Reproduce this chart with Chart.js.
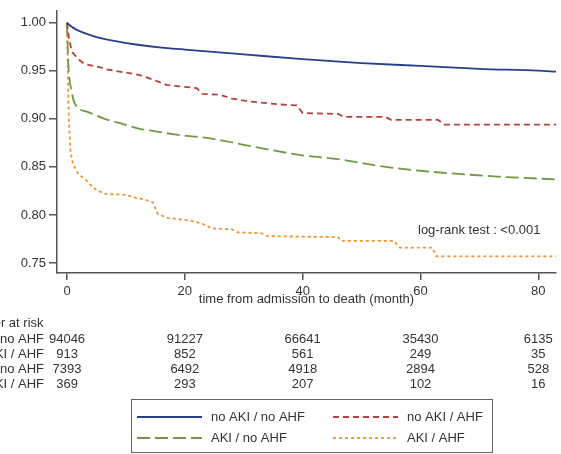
<!DOCTYPE html>
<html lang="en">
<head>
  <meta charset="UTF-8">
  <title>Survival by AKI / AHF group</title>
  <script src="https://cdn.jsdelivr.net/npm/chart.js"></script>
  <style>
    * {
      box-sizing: border-box;
      margin: 0;
      padding: 0;
    }

    body {
      background: #fff;
      font-family: 'Liberation Sans', Arial, sans-serif;
    }

    .chart-wrap {
      width: 561px;
      height: 454px;
    }
  </style>
</head>
<body>
  <div class="chart-wrap">
    <canvas id="kmChart" width="561" height="454"></canvas>
  </div>

  <script>
    // group names (legend + risk table rows)
    const groupLabels = ['no AKI / no AHF', 'no AKI / AHF', 'AKI / no AHF', 'AKI / AHF'];

    // survival curves: months and survival probability
    const noAkiNoAhfT = [0, 0.5, 1.5, 3, 5, 8, 12, 16, 20, 30, 40, 50, 60, 70, 80, 83];
    const noAkiNoAhfS = [1.0, 0.997, 0.993, 0.989, 0.985, 0.981, 0.977, 0.974, 0.972, 0.967, 0.962, 0.958, 0.955, 0.952, 0.950, 0.949];

    const noAkiAhfT = [0, 0.3, 0.8, 1.9, 3, 6, 7, 10, 12, 14.5, 17, 22, 23, 26, 28, 31, 36, 39, 40, 46, 47, 54, 55, 63, 64, 83];
    const noAkiAhfS = [1.0, 0.985, 0.97, 0.962, 0.957, 0.953, 0.951, 0.948, 0.946, 0.941, 0.935, 0.932, 0.926, 0.925, 0.921, 0.918, 0.915, 0.914, 0.906, 0.905, 0.902, 0.902, 0.899, 0.899, 0.894, 0.894];

    const akiNoAhfT = [0, 0.2, 0.8, 1.4, 3.6, 6.4, 9.3, 12, 15, 18, 25, 30, 40, 46, 53, 60, 73, 83];
    const akiNoAhfS = [1.0, 0.96, 0.928, 0.915, 0.907, 0.900, 0.895, 0.890, 0.887, 0.884, 0.879, 0.873, 0.862, 0.858, 0.851, 0.846, 0.840, 0.837];

    const akiAhfT = [0, 0.3, 0.6, 1.0, 1.9, 3.1, 4.2, 5, 6.4, 10, 11.5, 13.2, 14.6, 15.4, 17.1, 21, 22.9, 24.6, 28, 29, 33, 34, 46, 46.5, 55.5, 56.5, 62, 62.7, 83];
    const akiAhfS = [1.0, 0.9, 0.866, 0.853, 0.843, 0.837, 0.830, 0.826, 0.822, 0.821, 0.818, 0.816, 0.813, 0.801, 0.797, 0.794, 0.791, 0.786, 0.785, 0.782, 0.781, 0.778, 0.777, 0.773, 0.773, 0.766, 0.766, 0.757, 0.757];

    // axes
    const xTicks = [0, 20, 40, 60, 80];
    const yTicks = [0.75, 0.80, 0.85, 0.90, 0.95, 1.00];
    const xTitle = 'time from admission to death (month)';
    const logRankText = 'log-rank test : <0.001';

    // number at risk table
    const riskTimes = [0, 20, 40, 60, 80];
    const riskNoAkiNoAhf = [94046, 91227, 66641, 35430, 6135];
    const riskNoAkiAhf = [913, 852, 561, 249, 35];
    const riskAkiNoAhf = [7393, 6492, 4918, 2894, 528];
    const riskAkiAhf = [369, 293, 207, 102, 16];

    const FONT = '13px "Liberation Sans", Arial, sans-serif';
    const TEXT = '#333';
    const AXIS = '#555';

    function toPoints(t, s) {
      return t.map((v, i) => ({ x: v, y: s[i] }));
    }

    // risk table, axis title, annotation and boxed legend
    const kmExtras = {
      id: 'kmExtras',
      afterDraw(chart) {
        const ctx = chart.ctx;
        const xs = chart.scales.x;
        const area = chart.chartArea;
        ctx.save();
        ctx.font = FONT;
        ctx.fillStyle = TEXT;
        ctx.textBaseline = 'middle';

        ctx.textAlign = 'center';
        ctx.fillText(xTitle, (area.left + area.right) / 2, 299);

        ctx.textAlign = 'left';
        ctx.fillText(logRankText, 418, 230);

        ctx.fillText('Number at risk', -41, 323);
        const rows = [riskNoAkiNoAhf, riskNoAkiAhf, riskAkiNoAhf, riskAkiAhf];
        rows.forEach((row, i) => {
          const y = 339 + i * 15;
          ctx.textAlign = 'right';
          ctx.fillText(groupLabels[i], 44, y);
          ctx.textAlign = 'center';
          row.forEach((n, j) => ctx.fillText(String(n), xs.getPixelForValue(riskTimes[j]), y));
        });

        // legend box
        ctx.strokeStyle = '#666';
        ctx.lineWidth = 1;
        ctx.strokeRect(131.5, 399.5, 361, 53);
        const colX = [137, 333];
        const rowY = [417, 438];
        chart.data.datasets.forEach((ds, i) => {
          const lx = colX[i % 2];
          const ly = rowY[Math.floor(i / 2)];
          ctx.beginPath();
          ctx.strokeStyle = ds.borderColor;
          ctx.lineWidth = ds.borderWidth;
          ctx.setLineDash(ds.borderDash || []);
          ctx.moveTo(lx, ly);
          ctx.lineTo(lx + 65, ly);
          ctx.stroke();
          ctx.setLineDash([]);
          ctx.textAlign = 'left';
          ctx.fillStyle = TEXT;
          ctx.fillText(ds.label, lx + 74, ly);
        });
        ctx.restore();
      }
    };

    const ctx = document.getElementById('kmChart').getContext('2d');
    new Chart(ctx, {
      type: 'line',
      data: {
        datasets: [
          {
            label: groupLabels[0],
            data: toPoints(noAkiNoAhfT, noAkiNoAhfS),
            borderColor: '#27408b',
            borderWidth: 1.8,
            cubicInterpolationMode: 'monotone'
          },
          {
            label: groupLabels[1],
            data: toPoints(noAkiAhfT, noAkiAhfS),
            borderColor: '#b5423a',
            borderWidth: 1.8,
            borderDash: [6, 4]
          },
          {
            label: groupLabels[2],
            data: toPoints(akiNoAhfT, akiNoAhfS),
            borderColor: '#6e9a44',
            borderWidth: 1.8,
            borderDash: [13, 5],
            cubicInterpolationMode: 'monotone'
          },
          {
            label: groupLabels[3],
            data: toPoints(akiAhfT, akiAhfS),
            borderColor: '#f0922e',
            borderWidth: 1.8,
            borderDash: [3, 3]
          }
        ]
      },
      options: {
        responsive: false,
        animation: false,
        layout: { padding: { top: 8, right: 5, left: 0, bottom: 0 } },
        elements: { point: { radius: 0 }, line: { tension: 0 } },
        plugins: {
          legend: { display: false },
          tooltip: { enabled: false }
        },
        scales: {
          x: {
            type: 'linear',
            min: -1.7,
            max: 83,
            afterBuildTicks: s => { s.ticks = xTicks.map(v => ({ value: v })); },
            afterFit: s => { s.height = 181; },
            border: { display: true, color: AXIS, width: 1.5 },
            grid: { display: true, drawOnChartArea: false, drawTicks: true, tickLength: 7, color: AXIS, lineWidth: 1.5 },
            ticks: { color: TEXT, font: { size: 13, family: '"Liberation Sans", Arial, sans-serif' }, padding: 4, maxRotation: 0 }
          },
          y: {
            min: 0.7397,
            max: 1.0123,
            afterBuildTicks: s => { s.ticks = yTicks.map(v => ({ value: v })); },
            afterFit: s => { s.width = 57; },
            border: { display: true, color: AXIS, width: 1.5 },
            grid: { display: true, drawOnChartArea: false, drawTicks: true, tickLength: 8, color: AXIS, lineWidth: 1.5 },
            ticks: {
              color: TEXT,
              font: { size: 13, family: '"Liberation Sans", Arial, sans-serif' },
              padding: 3,
              callback: v => v.toFixed(2)
            }
          }
        }
      },
      plugins: [kmExtras]
    });
  </script>
</body>
</html>
